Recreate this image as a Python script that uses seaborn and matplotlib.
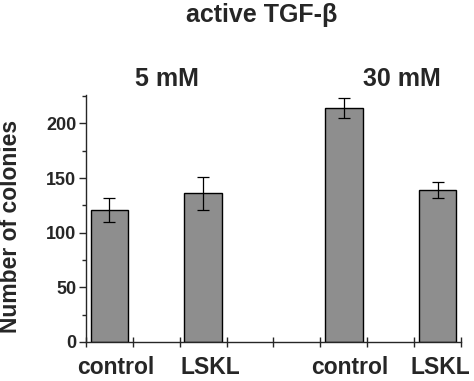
import matplotlib
matplotlib.use("Agg")
import matplotlib.pyplot as plt
import seaborn as sns
import pandas as pd
from matplotlib.ticker import MultipleLocator

sns.set_style("ticks")
plt.rcParams['font.family'] = ['Liberation Sans', 'DejaVu Sans']

groups = ["5 mM", "30 mM"]
labels = ["control", "LSKL", "control", "LSKL"]
positions = [0.5, 2.5, 5.5, 7.5]
colonies = [121, 136, 214, 139]
errors = [11, 15, 9.5, 7]

df = pd.DataFrame({"pos": positions, "colonies": colonies, "label": labels})

fig = plt.figure(figsize=(4.74, 3.81), dpi=100)
ax = fig.add_axes([0.1814, 0.1024, 0.7912, 0.6483])

sns.barplot(data=df, x="pos", y="colonies", native_scale=True, width=0.4,
            color="#8e8e8e", edgecolor="black", linewidth=1.0, saturation=1,
            errorbar=None, ax=ax)
ax.errorbar(positions, colonies, yerr=errors, fmt="none", ecolor="black",
            elinewidth=0.9, capsize=4.3, capthick=0.9)

ax.set_xlim(0, 8)
ax.set_ylim(0, 226)
ax.xaxis.set_major_locator(MultipleLocator(1))
ax.set_xticklabels([])
ax.yaxis.set_major_locator(MultipleLocator(50))
ax.yaxis.set_minor_locator(MultipleLocator(25))
ax.tick_params(axis="x", direction="inout", length=7, width=1)
ax.tick_params(axis="y", which="major", direction="out", length=5, width=1,
               labelsize=13, pad=2)
ax.tick_params(axis="y", which="minor", direction="out", length=3, width=1)
for t in ax.get_yticklabels():
    t.set_fontweight("bold")
for s in ["top", "right"]:
    ax.spines[s].set_visible(False)
for s in ["left", "bottom"]:
    ax.spines[s].set_linewidth(1.0)

ax.set_xlabel("")
ax.set_ylabel("Number of colonies", fontsize=16.5, fontweight="bold")
ax.yaxis.set_label_coords(22 / 474, 1 - 226 / 381, transform=fig.transFigure)

label_x = [116, 210, 349.5, 440]
for lx, lab in zip(label_x, labels):
    fig.text(lx / 474, 1 - 368 / 381, lab, ha="center", va="center",
             fontsize=16.5, fontweight="bold")

fig.text(167 / 474, 1 - 79 / 381, groups[0], ha="center", va="center",
         fontsize=18, fontweight="bold")
fig.text(401.7 / 474, 1 - 79 / 381, groups[1], ha="center", va="center",
         fontsize=18, fontweight="bold")

fig.text(262 / 474, 1 - 15 / 381, "active TGF-β", ha="center", va="center",
         fontsize=18, fontweight="bold")

fig.savefig("out.png", dpi=100)
